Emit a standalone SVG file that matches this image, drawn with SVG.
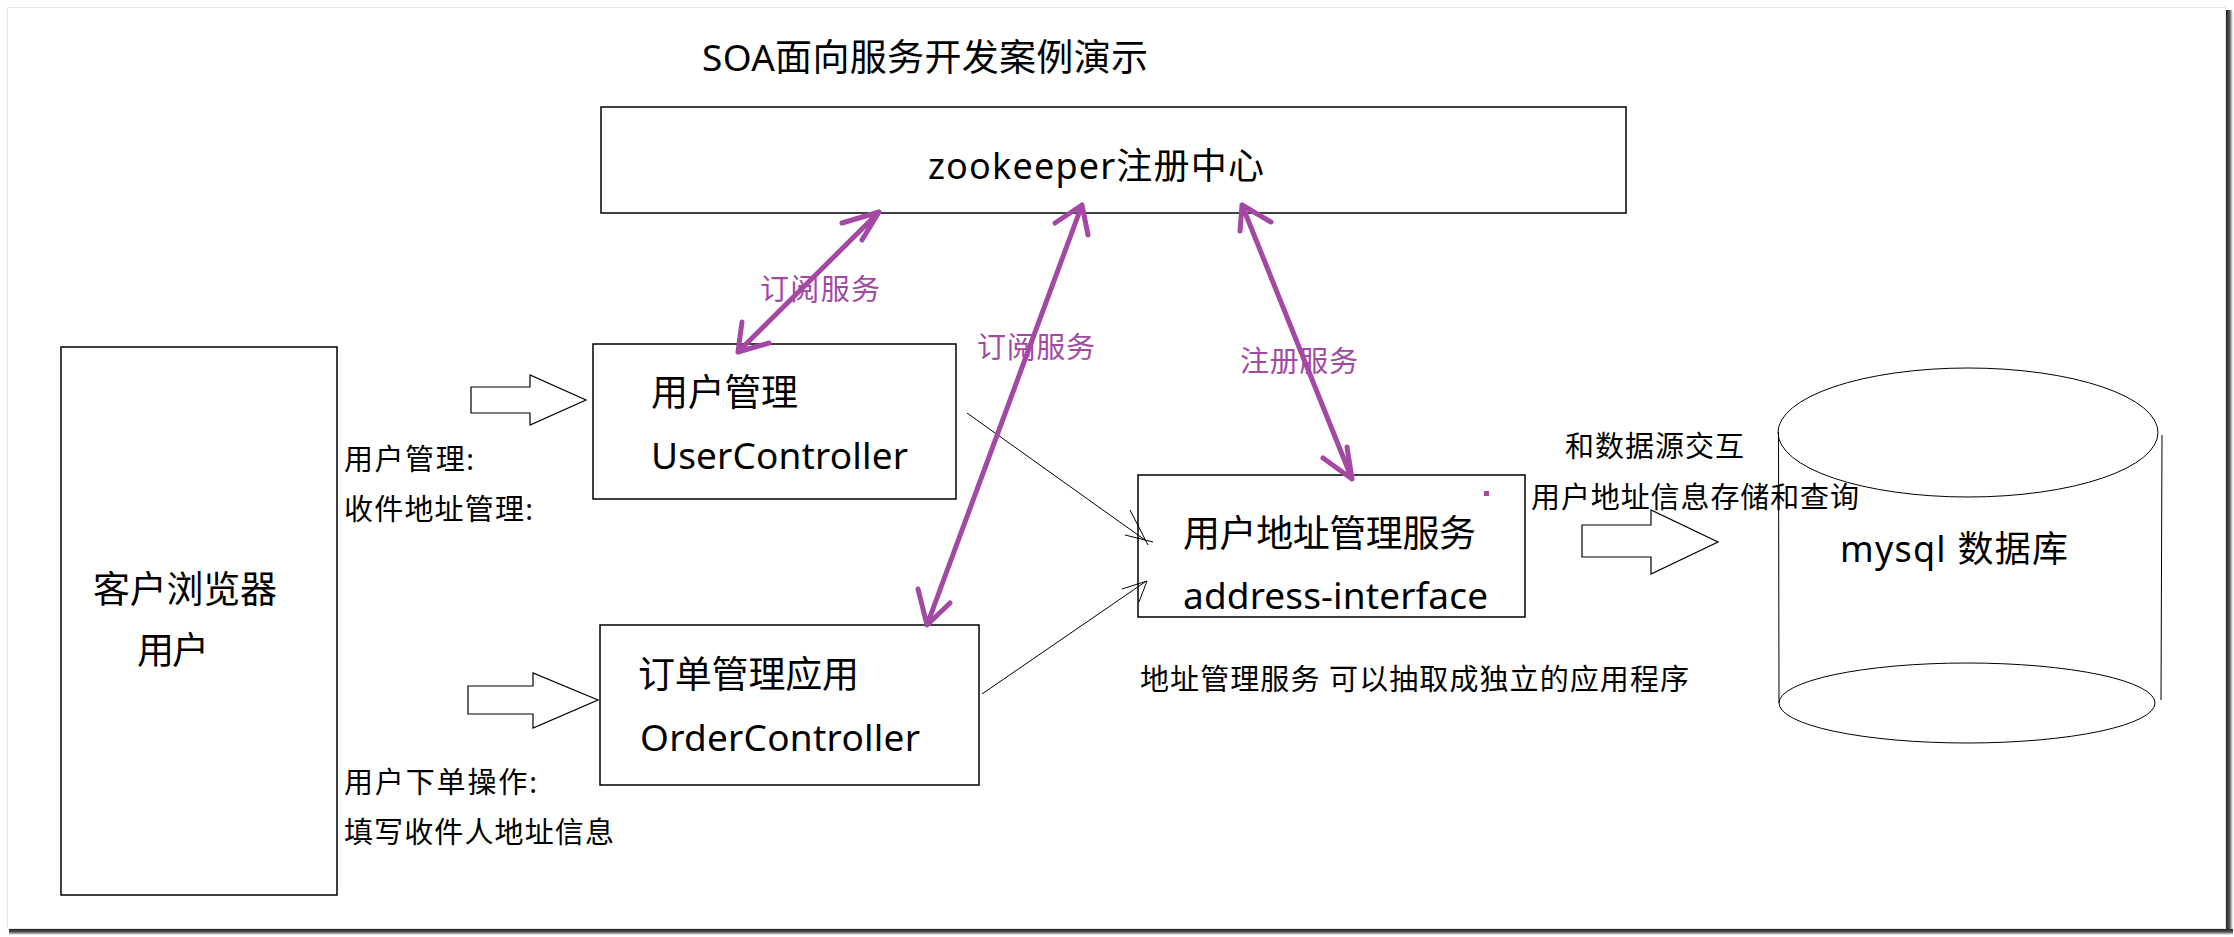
<svg xmlns="http://www.w3.org/2000/svg" width="2234" height="937" viewBox="0 0 2234 937">
<defs>
<linearGradient id="shR" x1="0" y1="0" x2="1" y2="0">
<stop offset="0" stop-color="#222"/><stop offset="0.5" stop-color="#555"/><stop offset="1" stop-color="#fff"/>
</linearGradient>
<linearGradient id="shB" x1="0" y1="0" x2="0" y2="1">
<stop offset="0" stop-color="#222"/><stop offset="0.5" stop-color="#555"/><stop offset="1" stop-color="#fff"/>
</linearGradient>
<style>
.box{fill:#fff;stroke:#000;stroke-width:1.5}
.blk{fill:#fff;stroke:#000;stroke-width:1.2}
.t{font-family:"Noto Sans","Noto Sans CJK SC",sans-serif;fill:#000}
.p{font-family:"Noto Sans CJK SC","Noto Sans",sans-serif;fill:#A349A4}
.thin{stroke:#000;stroke-width:1;fill:none}
.pur{stroke:#A349A4;stroke-width:5;fill:none;stroke-linecap:round;stroke-linejoin:round}
.cyl{fill:none;stroke:#000;stroke-width:1}
</style>
</defs>
<rect x="0" y="0" width="2234" height="937" fill="#fff"/>
<g id="frame">
<rect x="2226" y="10" width="7" height="925" fill="url(#shR)"/>
<rect x="9" y="929" width="2224" height="6" fill="url(#shB)"/>
<rect x="7.5" y="7.5" width="2218" height="921" fill="#fff" stroke="#e6e6e6" stroke-width="1"/>
</g>
<g id="title">
<text class="t" x="702" y="71" font-size="37" textLength="446">SOA面向服务开发案例演示</text>
</g>
<g id="zookeeper">
<rect class="box" x="601" y="107" width="1025" height="106"/>
<text class="t" x="928" y="179" font-size="36" textLength="336">zookeeper注册中心</text>
</g>
<g id="browser">
<rect class="box" x="61" y="347" width="276" height="548"/>
<text class="t" x="93" y="603" font-size="37" textLength="184">客户浏览器</text>
<text class="t" x="137" y="664" font-size="37" textLength="72">用户</text>
</g>
<g id="userController">
<rect class="box" x="593" y="344" width="363" height="155"/>
<text class="t" x="651" y="406" font-size="37" textLength="147">用户管理</text>
<text class="t" x="651" y="469" font-size="37" textLength="257">UserController</text>
</g>
<g id="orderController">
<rect class="box" x="600" y="625" width="379" height="160"/>
<text class="t" x="638" y="688" font-size="37" textLength="221">订单管理应用</text>
<text class="t" x="640" y="751" font-size="37" textLength="280">OrderController</text>
</g>
<g id="addressService">
<rect class="box" x="1138" y="475" width="387" height="142"/>
<text class="t" x="1183" y="547" font-size="37" textLength="293">用户地址管理服务</text>
<text class="t" x="1183" y="609" font-size="37" textLength="305">address-interface</text>
<rect x="1484" y="491" width="5" height="5" fill="#A349A4"/>
</g>
<g id="mysql">
<line class="cyl" x1="1778.5" y1="432" x2="1779" y2="703"/>
<line class="cyl" x1="2162" y1="435" x2="2161" y2="700"/>
<ellipse class="cyl" cx="1968" cy="432.5" rx="190" ry="64.5" fill="#fff"/>
<ellipse class="cyl" cx="1967" cy="703" rx="188" ry="40"/>
<text class="t" x="1840" y="562" font-size="36" textLength="228">mysql 数据库</text>
</g>
<g id="labels">
<text class="t" x="344" y="470" font-size="29" textLength="130">用户管理:</text>
<text class="t" x="344" y="520" font-size="29" textLength="189">收件地址管理:</text>
<text class="t" x="344" y="793" font-size="29" textLength="193">用户下单操作:</text>
<text class="t" x="344" y="843" font-size="29" textLength="270">填写收件人地址信息</text>
<text class="t" x="1565" y="457" font-size="29" textLength="179">和数据源交互</text>
<text class="t" x="1531" y="508" font-size="29" textLength="328">用户地址信息存储和查询</text>
<text class="t" x="1140" y="690" font-size="29" textLength="549">地址管理服务 可以抽取成独立的应用程序</text>
</g>
<g id="connectors">
<polygon class="blk" points="471,387 530,387 530,375 586,400 530,425 530,413 471,413"/>
<polygon class="blk" points="468,686 533,686 533,673 598,700 533,728 533,714 468,714"/>
<polygon class="blk" points="1582,525 1651,525 1651,510 1718,542 1651,574 1651,557 1582,557"/>
<line class="thin" x1="967" y1="413" x2="1145" y2="540"/>
<line class="thin" x1="1130" y1="510" x2="1148" y2="545"/>
<line class="thin" x1="1125" y1="535" x2="1153" y2="542"/>
<line class="thin" x1="982" y1="694" x2="1145" y2="582"/>
<line class="thin" x1="1122" y1="589" x2="1147" y2="581"/>
<line class="thin" x1="1147" y1="581" x2="1139" y2="602"/>
<path class="pur" d="M879,212 L738,352 M842,223 L879,212 L862,240 M742,322 L738,352 L769,343"/>
<path class="pur" d="M1082,205 L927,625 M1055,223 L1082,205 L1088,235 M918,589 L927,625 L950,603"/>
<path class="pur" d="M1242,205 L1352,479 M1240,231 L1242,205 L1271,222 M1347,447 L1352,479 L1323,458"/>
<text class="p" x="760" y="300" font-size="29" textLength="120">订阅服务</text>
<text class="p" x="977" y="358" font-size="29" textLength="118">订阅服务</text>
<text class="p" x="1240" y="372" font-size="29" textLength="118">注册服务</text>
</g>
</svg>
